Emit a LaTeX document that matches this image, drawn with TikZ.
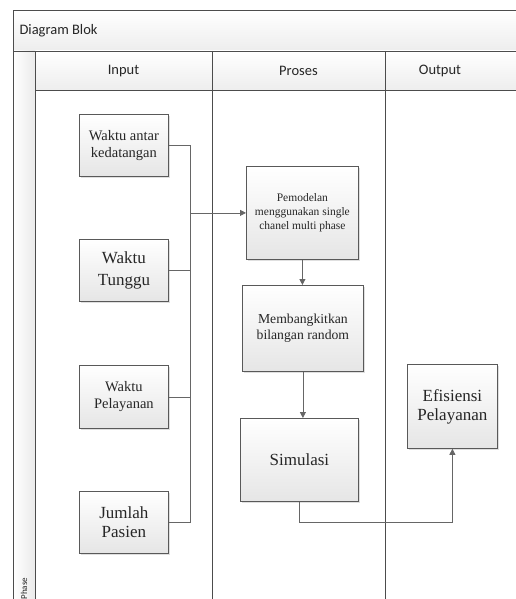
\documentclass[tikz,border=0pt]{standalone}
\usepackage{fontspec}
\setmainfont{Liberation Serif}
\newfontfamily\lanefont{Carlito}
\usetikzlibrary{positioning,arrows.meta,shadows}

\begin{document}
\begin{tikzpicture}[
  x=1pt, y=-1pt,
  lane/.style={draw=black!70, line width=0.8pt},
  lanetext/.style={font=\lanefont\fontsize{14.5}{16}\selectfont, text=black!85},
  block/.style={draw=black!65, line width=0.8pt, top color=white, bottom color=black!10,
    align=center, inner sep=2pt, anchor=north west, text=black!85,
    drop shadow={shadow xshift=1.2pt, shadow yshift=-1.2pt, opacity=0.25}},
  link/.style={draw=black!60, line width=0.8pt},
  flow/.style={link, -{Triangle[length=6pt, width=6pt]}}
]
\useasboundingbox (0,0) rectangle (516,599);
\clip (0,0) rectangle (516,599);

% swimlane frame
\fill[top color=white, bottom color=black!7] (13,10) rectangle (530,51);
\fill[top color=white, bottom color=black!7] (35,51) rectangle (530,90);
\fill[left color=white, right color=black!8] (13,51) rectangle (35,620);
\draw[lane] (530,10) -- (13,10) -- (13,620);
\draw[lane] (13,51) -- (530,51);
\draw[lane] (35,90) -- (530,90);
\foreach \x in {35,212,385}
  \draw[lane] (\x,51) -- (\x,620);

\node[lanetext, anchor=west] (title) at (16,31) {Diagram Blok};
\node[lanetext] (hinput) at (123.5,71) {Input};
\node[lanetext] (hproses) at (298.5,71) {Proses};
\node[lanetext] (houtput) at (440,71) {Output};
\node[lanetext, font=\lanefont\fontsize{9}{10}\selectfont, rotate=90, anchor=west] (phase) at (24,603) {Phase};

% input
\node[block, minimum width=89pt, minimum height=62pt, font=\fontsize{14.5}{17}\selectfont] (antar) at (79,114) {Waktu antar\\kedatangan};
\node[block, minimum width=89pt, minimum height=62pt, font=\fontsize{17}{22}\selectfont] (tunggu) at (79,239) {Waktu\\Tunggu};
\node[block, minimum width=89pt, minimum height=63pt, font=\fontsize{14.5}{17}\selectfont] (layan) at (79,365) {Waktu\\Pelayanan};
\node[block, minimum width=89pt, minimum height=62pt, font=\fontsize{17}{19}\selectfont] (pasien) at (79,491) {Jumlah\\Pasien};

% proses
\node[block, minimum width=112pt, minimum height=93pt, font=\fontsize{11.5}{14}\selectfont] (model) at (246,166) {Pemodelan\\menggunakan single\\chanel multi phase};
\node[block, minimum width=121pt, minimum height=86pt, font=\fontsize{13.7}{16}\selectfont] (bangkit) at (242,285) {Membangkitkan\\bilangan random};
\node[block, minimum width=118pt, minimum height=83pt, font=\fontsize{17}{19}\selectfont] (simulasi) at (240,418) {Simulasi};

% output
\node[block, minimum width=90pt, minimum height=84pt, font=\fontsize{17}{19}\selectfont] (efisiensi) at (407,364) {Efisiensi\\Pelayanan};

% connectors
\coordinate (join) at (190,0 |- model.west);
\draw[link] (antar.east) -| (join);
\draw[link] (tunggu.east) -- (tunggu.east -| join);
\draw[link] (layan.east) -- (layan.east -| join);
\draw[link] (join) -- (join |- pasien.east) -- (pasien.east);
\draw[flow] (join) -- (model.west);
\draw[flow] (model.south) -- (model.south |- bangkit.north);
\draw[flow] (bangkit.south) -- (bangkit.south |- simulasi.north);
\draw[flow] (simulasi.south) |- (pasien.east -| efisiensi.south) -- (efisiensi.south);
\end{tikzpicture}
\end{document}
